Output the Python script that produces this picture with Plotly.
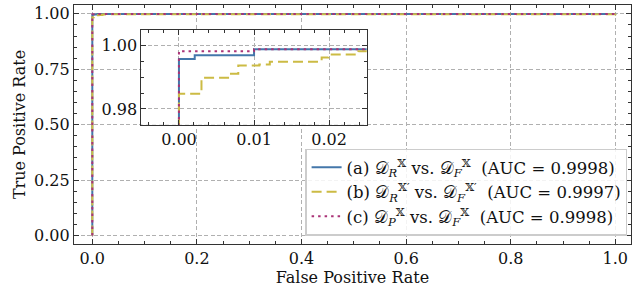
import plotly.graph_objects as go

# ROC step points (FPR, TPR)
fpr_a = [0.0, 0.0, 0.0021, 0.01, 1.0]
tpr_a = [0.0, 0.9958, 0.9970, 0.9989, 1.0]

fpr_b = [0.0, 0.0, 0.003, 0.0067, 0.0079, 0.0107, 0.0121, 0.019, 0.0199, 0.0239, 1.0]
tpr_b = [0.0, 0.9848, 0.9899, 0.9912, 0.9938, 0.9941, 0.9950, 0.9963, 0.9973, 0.9983, 1.0]

fpr_c = [0.0, 0.0, 0.01, 1.0]
tpr_c = [0.0, 0.9983, 0.9989, 1.0]

labels = [
    "(a) 𝒟<sub><i>R</i></sub><sup>𝕏</sup> vs. 𝒟<sub><i>F</i></sub><sup>𝕏</sup>  (AUC = 0.9998)",
    "(b) 𝒟<sub><i>R</i></sub><sup>𝕏′</sup> vs. 𝒟<sub><i>F</i></sub><sup>𝕏′</sup>  (AUC = 0.9997)",
    "(c) 𝒟<sub><i>P</i></sub><sup>𝕏</sup> vs. 𝒟<sub><i>F</i></sub><sup>𝕏</sup>  (AUC = 0.9998)",
]
colors = ["#4477AA", "#CCBB44", "#AA3377"]
dashes = ["solid", "10px,5px", "2.5px,4px"]
series = [(fpr_a, tpr_a), (fpr_b, tpr_b), (fpr_c, tpr_c)]

FONT = "DejaVu Serif"
FS = 16

fig = go.Figure()
for (x, y), lab, c, d in zip(series, labels, colors, dashes):
    fig.add_trace(go.Scatter(x=x, y=y, mode="lines", name=lab, line_shape="hv",
                             line=dict(color=c, width=2, dash=d),
                             xaxis="x", yaxis="y"))
for (x, y), lab, c, d in zip(series, labels, colors, dashes):
    fig.add_trace(go.Scatter(x=x, y=y, mode="lines", name=lab, line_shape="hv",
                             line=dict(color=c, width=2, dash=d), showlegend=False,
                             xaxis="x2", yaxis="y2"))

axcommon = dict(showline=True, linecolor="#333333", linewidth=1.2, mirror="allticks",
                ticks="inside", ticklen=5, tickwidth=1, tickcolor="#333333",
                showgrid=True, gridcolor="#b0b0b0", griddash="4px,2.5px", gridwidth=1,
                zeroline=False, automargin=False,
                tickfont=dict(family=FONT, size=FS, color="#111"))

fig.update_layout(
    width=633, height=290,
    margin=dict(l=74, r=2, t=5, b=46),
    paper_bgcolor="white", plot_bgcolor="white",
    font=dict(family=FONT, size=FS, color="#111"),
    xaxis=dict(axcommon, domain=[0, 1], anchor="y", range=[-0.035, 1.03],
               tickvals=[0, 0.2, 0.4, 0.6, 0.8, 1.0], ticktext=["0.0", "0.2", "0.4", "0.6", "0.8", "1.0"],
               minor=dict(ticks="inside", dtick=0.05, tick0=0, ticklen=2.5, tickcolor="#333333"),
               title=dict(text="False Positive Rate", font=dict(family=FONT, size=FS), standoff=0)),
    yaxis=dict(axcommon, domain=[0, 1], anchor="x", range=[-0.038, 1.04],
               tickvals=[0, 0.25, 0.5, 0.75, 1.0], ticktext=["0.00", "0.25", "0.50", "0.75", "1.00"],
               minor=dict(ticks="inside", dtick=0.05, tick0=0, ticklen=2.5, tickcolor="#333333"),
               title=dict(text="True Positive Rate", font=dict(family=FONT, size=FS), standoff=4)),
    xaxis2=dict(axcommon, domain=[0.121, 0.5255], anchor="y2", range=[-0.005, 0.025],
                tickvals=[0, 0.01, 0.02], ticktext=["0.00", "0.01", "0.02"],
                minor=dict(ticks="inside", dtick=0.002, tick0=0, ticklen=2.5, tickcolor="#333333")),
    yaxis2=dict(axcommon, domain=[0.499, 0.895], anchor="x2", range=[0.975, 1.005],
                tickvals=[0.98, 1.0], ticktext=["0.98", "1.00"],
                minor=dict(ticks="inside", dtick=0.005, tick0=0.975, ticklen=2.5, tickcolor="#333333")),
    legend=dict(x=0.993, xanchor="right", y=0.035, yanchor="bottom",
                bgcolor="rgba(255,255,255,0.85)", bordercolor="#cccccc", borderwidth=1.5,
                font=dict(family=FONT, size=16.5), tracegroupgap=0, itemwidth=30),
    showlegend=True,
)

fig.write_html("out.html", config={"displayModeBar": False},
               post_script="document.body.style.margin='0';")
